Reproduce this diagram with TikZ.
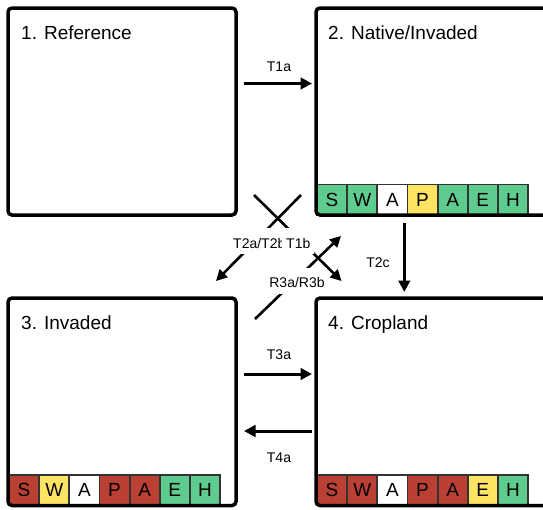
\documentclass[tikz,border=0pt]{standalone}
\usepackage{fontspec}
\setmainfont{Liberation Sans}
\usetikzlibrary{arrows.meta}
\definecolor{cgreen}{RGB}{94,204,143}
\definecolor{cyellow}{RGB}{255,228,99}
\definecolor{cred}{RGB}{186,64,52}
\definecolor{cgrid}{RGB}{51,51,51}
\begin{document}
\begin{tikzpicture}[x=1pt,y=-1pt,
  statebox/.style={draw=black, line width=3.5pt, rounded corners=4pt, inner sep=0pt},
  title/.style={anchor=base west, inner sep=0pt, font=\fontsize{19}{22}\selectfont},
  cell/.style={draw=cgrid, line width=1.8pt, minimum width=30.15pt, minimum height=30.5pt, inner sep=0pt, font=\fontsize{19}{22}\selectfont},
  arr/.style={line width=3pt, -{Triangle[length=11.5pt,width=11.5pt]}},
  darr/.style={line width=2.6pt, -{Triangle[length=11pt,width=11pt]}},
  lab/.style={font=\fontsize{14}{16}\selectfont, inner sep=0pt},
  clab/.style={lab, fill=white, inner xsep=2pt, inner ysep=5pt, text height=15pt, text depth=1pt},
]
\useasboundingbox (0,0) rectangle (543,509);
\clip (0,0) rectangle (543,509);

% colour bars
\foreach \l/\c [count=\i] in {S/cgreen, W/cgreen, A/white, P/cyellow, A/cgreen, E/cgreen, H/cgreen}
  \node[cell, fill=\c] (bar2-\i) at ({317+30.15*(\i-0.5)},199.75) {\l};
\foreach \l/\c [count=\i] in {S/cred, W/cyellow, A/white, P/cred, A/cred, E/cgreen, H/cgreen}
  \node[cell, fill=\c] (bar3-\i) at ({9+30.15*(\i-0.5)},490.25) {\l};
\foreach \l/\c [count=\i] in {S/cred, W/cred, A/white, P/cred, A/cred, E/cyellow, H/cgreen}
  \node[cell, fill=\c] (bar4-\i) at ({317+30.15*(\i-0.5)},490.25) {\l};

% boxes
\node[statebox, minimum width=228pt, minimum height=207pt] (b1) at (122,111.5) {};
\node[statebox, minimum width=232pt, minimum height=207pt] (b2) at (432,111.5) {};
\node[statebox, minimum width=228pt, minimum height=207.5pt] (b3) at (122,401.75) {};
\node[statebox, minimum width=232pt, minimum height=207.5pt] (b4) at (432,401.75) {};

% titles
\node[title] (t1) at (21,39.5) {1. Reference};
\node[title] (t2) at (328,39.5) {2. Native/Invaded};
\node[title] (t3) at (21,329.5) {3. Invaded};
\node[title] (t4) at (328,329.5) {4. Cropland};

% connector end points
\coordinate (t1a-s) at (244,83.5);  \coordinate (t1a-e) at (312,83.5);
\coordinate (t2c-s) at (404.3,223); \coordinate (t2c-e) at (404.3,292);
\coordinate (t3a-s) at (244,374);   \coordinate (t3a-e) at (312,374);
\coordinate (t4a-s) at (312,431);   \coordinate (t4a-e) at (244,431);
\coordinate (t2-s) at (301,195);    \coordinate (t2-e) at (216,281);
\coordinate (t1b-s) at (254,195);   \coordinate (t1b-e) at (341.5,281);
\coordinate (r3-s) at (255,319);    \coordinate (r3-e) at (341,236);

\draw[arr] (t1a-s) -- (t1a-e);
\draw[arr] (t2c-s) -- (t2c-e);
\draw[arr] (t3a-s) -- (t3a-e);
\draw[arr] (t4a-s) -- (t4a-e);
\draw[darr] (t2-s) -- (t2-e);
\draw[darr] (t1b-s) -- (t1b-e);
\draw[darr] (r3-s) -- (r3-e);

% labels
\node[lab] (l-t1a) at (279,66.5) {T1a};
\node[lab] (l-t2c) at (378,263) {T2c};
\node[lab] (l-t3a) at (279,355) {T3a};
\node[lab] (l-t4a) at (279,458) {T4a};
\node[clab, anchor=west] (l-t2) at (231,241) {T2a/T2b};
\node[clab, anchor=west, inner xsep=4pt] (l-t1b) at (282,241) {T1b};
\node[clab] (l-r3) at (297,280.5) {R3a/R3b};
\end{tikzpicture}
\end{document}
